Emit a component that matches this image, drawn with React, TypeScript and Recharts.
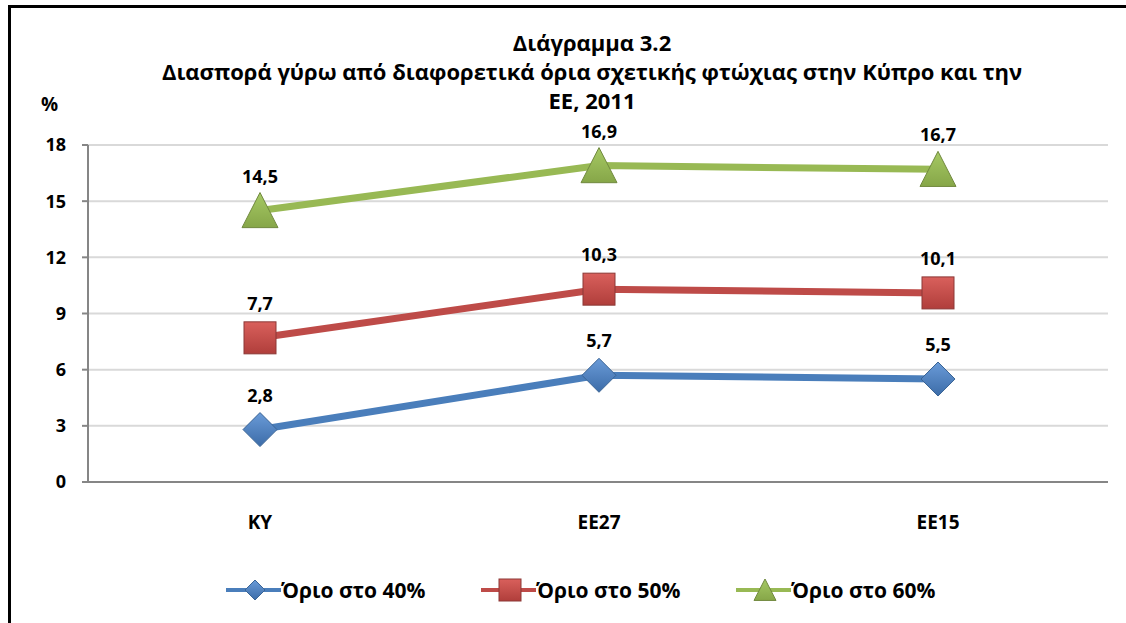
import React from 'react';
import { LineChart, Line, XAxis, YAxis, CartesianGrid, Legend } from 'recharts';

const categories = ['ΚΥ', 'ΕΕ27', 'ΕΕ15'];
const limit40 = [2.8, 5.7, 5.5];
const limit50 = [7.7, 10.3, 10.1];
const limit60 = [14.5, 16.9, 16.7];
const yTicks = [0, 3, 6, 9, 12, 15, 18];
const seriesNames = ['Όριο στο 40%', 'Όριο στο 50%', 'Όριο στο 60%'];
const titleLines = ['Διάγραμμα 3.2', 'Διασπορά γύρω από διαφορετικά όρια σχετικής φτώχιας στην Κύπρο και την', 'ΕΕ, 2011'];

const data = categories.map((c, i) => ({ cat: c, a: limit40[i], b: limit50[i], c: limit60[i] }));

const FONT = '"Open Sans", sans-serif';
const BLUE = '#4A7EBB';
const RED = '#BE4B48';
const GREEN = '#98B954';

const fmt = (v: number) => String(v).replace('.', ',');

const Diamond = (props: any) => {
  const { cx, cy, size = 17 } = props;
  if (cx == null || cy == null) return null;
  const r = size;
  return (
    <path
      d={`M${cx},${cy - r} L${cx + r},${cy} L${cx},${cy + r} L${cx - r},${cy} Z`}
      fill="url(#gBlue)"
      stroke="#3A6495"
      strokeWidth={1}
    />
  );
};
const Square = (props: any) => {
  const { cx, cy, size = 16 } = props;
  if (cx == null || cy == null) return null;
  const r = size;
  return <rect x={cx - r} y={cy - r} width={2 * r} height={2 * r} fill="url(#gRed)" stroke="#8C3836" strokeWidth={1} />;
};
const Triangle = (props: any) => {
  const { cx, cy, size = 18 } = props;
  if (cx == null || cy == null) return null;
  const r = size;
  return (
    <path
      d={`M${cx},${cy - r} L${cx + r},${cy + r * 0.95} L${cx - r},${cy + r * 0.95} Z`}
      fill="url(#gGreen)"
      stroke="#71893F"
      strokeWidth={1}
    />
  );
};

const makeLabel = (dy: number) => (props: any) => {
  const { x, y, value } = props;
  return (
    <text x={x} y={y - dy} textAnchor="middle" fontFamily={FONT} fontWeight={700} fontSize={18} fill="#000">
      {fmt(value)}
    </text>
  );
};

const LegendContent = () => {
  const items = [
    { name: seriesNames[0], color: BLUE, Shape: Diamond, s: 10 },
    { name: seriesNames[1], color: RED, Shape: Square, s: 11 },
    { name: seriesNames[2], color: GREEN, Shape: Triangle, s: 11 },
  ];
  return (
    <svg width={1126} height={40} style={{ display: 'block' }}>
      {items.map((it, i) => {
        const cx = 255 + i * 255;
        return (
          <g key={it.name}>
            <line x1={cx - 29} x2={cx + 26} y1={20} y2={20} stroke={it.color} strokeWidth={4} />
            <it.Shape cx={cx} cy={20} size={it.s} />
            <text x={cx + 26} y={28} fontFamily={FONT} fontWeight={700} fontSize={21} fill="#000">
              {it.name}
            </text>
          </g>
        );
      })}
    </svg>
  );
};

export default function App() {
  return (
    <div style={{ position: 'absolute', left: 0, top: 0, width: 1126, height: 623, background: '#fff', overflow: 'hidden' }}>
      <div
        style={{
          position: 'absolute',
          left: 8,
          top: 5,
          width: 1140,
          height: 640,
          border: '3px solid #000',
          boxSizing: 'border-box',
        }}
      />
      <div style={{ position: 'absolute', left: 0, top: 28, width: 1184, textAlign: 'center', fontFamily: FONT, fontWeight: 700, fontSize: 22, lineHeight: '29px', color: '#000' }}>
        {titleLines.map((t) => (
          <div key={t}>{t}</div>
        ))}
      </div>
      <div style={{ position: 'absolute', left: 41, top: 91, fontFamily: FONT, fontWeight: 700, fontSize: 19, color: '#000' }}>%</div>
      <div style={{ position: 'absolute', left: 0, top: 0 }}>
        <LineChart width={1126} height={623} data={data} margin={{ top: 145, right: 18, bottom: 13, left: 0 }}>
          <defs>
            <linearGradient id="gBlue" x1="0" y1="0" x2="0" y2="1">
              <stop offset="0" stopColor="#6A9BD8" />
              <stop offset="1" stopColor="#3C6CA8" />
            </linearGradient>
            <linearGradient id="gRed" x1="0" y1="0" x2="0" y2="1">
              <stop offset="0" stopColor="#D9605C" />
              <stop offset="1" stopColor="#B03E3B" />
            </linearGradient>
            <linearGradient id="gGreen" x1="0" y1="0" x2="0" y2="1">
              <stop offset="0" stopColor="#A6C964" />
              <stop offset="1" stopColor="#86A648" />
            </linearGradient>
          </defs>
          <CartesianGrid vertical={false} stroke="#D9D9D9" strokeWidth={2} />
          <XAxis
            dataKey="cat"
            height={88}
            padding={{ left: 172, right: 170 }}
            axisLine={{ stroke: '#868686', strokeWidth: 2 }}
            tickLine={false}
            tickMargin={28}
            tick={{ fontFamily: FONT, fontWeight: 700, fontSize: 19, fill: '#000' }}
          />
          <YAxis
            width={88}
            domain={[0, 18]}
            ticks={yTicks}
            interval={0}
            axisLine={{ stroke: '#868686', strokeWidth: 2 }}
            tickLine={{ stroke: '#868686', strokeWidth: 2 }}
            tickSize={6}
            tickMargin={16}
            tick={{ fontFamily: FONT, fontWeight: 700, fontSize: 18, fill: '#000' }}
          />
          <Legend verticalAlign="bottom" align="left" height={40} wrapperStyle={{ left: 0, width: 1126 }} content={<LegendContent />} />
          <Line dataKey="a" name={seriesNames[0]} stroke={BLUE} strokeWidth={7} dot={<Diamond />} activeDot={false} isAnimationActive={false} label={makeLabel(28)} />
          <Line dataKey="b" name={seriesNames[1]} stroke={RED} strokeWidth={7} dot={<Square />} activeDot={false} isAnimationActive={false} label={makeLabel(28)} />
          <Line dataKey="c" name={seriesNames[2]} stroke={GREEN} strokeWidth={7} dot={<Triangle />} activeDot={false} isAnimationActive={false} label={makeLabel(28)} />
        </LineChart>
      </div>
    </div>
  );
}
